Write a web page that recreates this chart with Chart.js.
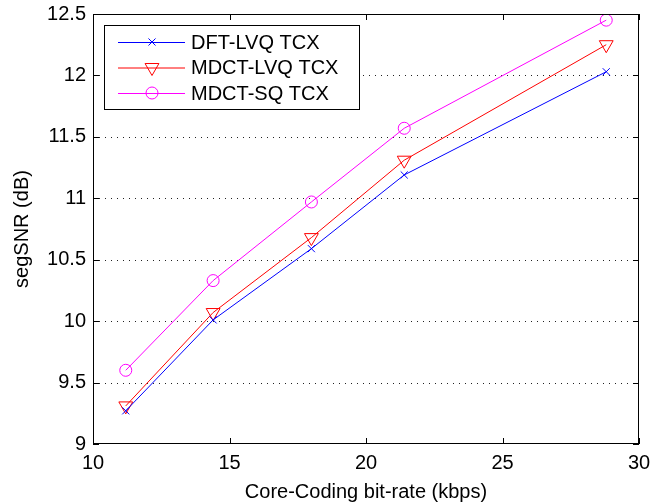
<!DOCTYPE html>
<html>
<head>
<meta charset="utf-8">
<script src="https://cdn.jsdelivr.net/npm/chart.js@4"></script>
<style>
  html, body { margin: 0; padding: 0; background: #fff; }
  #wrap { width: 667px; height: 504px; }
</style>
</head>
<body>
<div id="wrap"><canvas id="chart" width="667" height="504"></canvas></div>
<script>
const bitRates = [11.2, 14.4, 18, 21.4, 28.8];
const dftLvq = [9.27, 10.01, 10.59, 11.19, 12.03];
const mdctLvq = [9.31, 10.07, 10.68, 11.31, 12.25];
const mdctSq = [9.60, 10.33, 10.97, 11.57, 12.45];
const xTicks = [10, 15, 20, 25, 30];
const yTicks = [9, 9.5, 10, 10.5, 11, 11.5, 12, 12.5];

const font = 'Liberation Sans, Arial, Helvetica, sans-serif';

function points(ys) {
    return bitRates.map((x, i) => ({ x: x, y: ys[i] }));
}

const series = [
    { label: 'DFT-LVQ TCX', data: points(dftLvq), color: '#0000ff', style: 'crossRot', radius: 5, rotation: 0 },
    { label: 'MDCT-LVQ TCX', data: points(mdctLvq), color: '#ff0000', style: 'triangle', radius: 8, rotation: 180 },
    { label: 'MDCT-SQ TCX', data: points(mdctSq), color: '#ff00ff', style: 'circle', radius: 6, rotation: 0 },
];

// dotted grid, box, inward ticks and legend, drawn the MATLAB way
const matlabFrame = {
    id: 'matlabFrame',
    beforeDatasetsDraw(chart) {
        const ctx = chart.ctx;
        const a = chart.chartArea;
        const ys = chart.scales.y;
        ctx.save();
        ctx.strokeStyle = '#222';
        ctx.lineWidth = 1;
        ctx.setLineDash([1, 5]);
        ctx.beginPath();
        yTicks.slice(1, -1).forEach(v => {
            const py = Math.round(ys.getPixelForValue(v)) + 0.5;
            ctx.moveTo(a.left, py); ctx.lineTo(a.right, py);
        });
        ctx.stroke();
        ctx.restore();
    },
    afterDraw(chart) {
        const ctx = chart.ctx;
        const a = chart.chartArea;
        const xs = chart.scales.x, ys = chart.scales.y;
        ctx.save();
        ctx.strokeStyle = '#000';
        ctx.lineWidth = 1;
        ctx.setLineDash([]);
        ctx.strokeRect(a.left + 0.5, a.top + 0.5, a.right - a.left - 1, a.bottom - a.top - 1);
        ctx.beginPath();
        xTicks.forEach(v => {
            const px = Math.round(xs.getPixelForValue(v)) + 0.5;
            ctx.moveTo(px, a.bottom); ctx.lineTo(px, a.bottom - 6);
            ctx.moveTo(px, a.top); ctx.lineTo(px, a.top + 6);
        });
        yTicks.forEach(v => {
            const py = Math.round(ys.getPixelForValue(v)) + 0.5;
            ctx.moveTo(a.left, py); ctx.lineTo(a.left + 6, py);
            ctx.moveTo(a.right, py); ctx.lineTo(a.right - 6, py);
        });
        ctx.stroke();

        // legend
        const lx = 104, ly = 25, lw = 255, lh = 84;
        ctx.fillStyle = '#fff';
        ctx.fillRect(lx, ly, lw, lh);
        ctx.strokeRect(lx + 0.5, ly + 0.5, lw, lh);
        ctx.font = '20px ' + font;
        ctx.textBaseline = 'middle';
        chart.data.datasets.forEach((ds, i) => {
            const y = 42 + i * 25.5;
            ctx.strokeStyle = ds.borderColor;
            ctx.beginPath();
            ctx.moveTo(118, y + 0.5); ctx.lineTo(185, y + 0.5);
            ctx.stroke();
            ctx.fillStyle = 'rgba(0,0,0,0)';
            Chart.helpers.drawPoint(ctx, {
                pointStyle: ds.pointStyle,
                radius: ds.pointRadius,
                rotation: ds.pointRotation,
                borderWidth: 1
            }, 152, y);
            ctx.fillStyle = '#000';
            ctx.fillText(ds.label, 191, y + 1);
        });
        ctx.restore();
    }
};

new Chart(document.getElementById('chart'), {
    type: 'line',
    data: {
        datasets: series.map(s => ({
            label: s.label,
            data: s.data,
            borderColor: s.color,
            backgroundColor: 'rgba(0,0,0,0)',
            borderWidth: 1,
            pointStyle: s.style,
            pointRadius: s.radius,
            pointHoverRadius: s.radius,
            pointRotation: s.rotation,
            pointBorderColor: s.color,
            pointBackgroundColor: 'rgba(0,0,0,0)',
            pointBorderWidth: 1,
            tension: 0
        }))
    },
    options: {
        responsive: false,
        animation: false,
        layout: { padding: { top: 14, right: 28, left: 0, bottom: 0 } },
        plugins: { legend: { display: false }, tooltip: { enabled: false } },
        scales: {
            x: {
                type: 'linear',
                min: 10, max: 30,
                afterBuildTicks: s => { s.ticks = xTicks.map(v => ({ value: v })); },
                afterFit: s => { s.height = 60; s.paddingLeft = 0; s.paddingRight = 0; },
                grid: { display: false, drawTicks: false },
                border: { display: false },
                ticks: { color: '#000', font: { family: font, size: 20 }, padding: 7, maxRotation: 0,
                         callback: v => String(v) },
                title: { display: true, text: 'Core-Coding bit-rate (kbps)', color: '#000', font: { family: font, size: 20 }, padding: { top: 1, bottom: 0 } }
            },
            y: {
                min: 9, max: 12.5,
                afterBuildTicks: s => { s.ticks = yTicks.map(v => ({ value: v })); },
                afterFit: s => { s.width = 93; s.paddingTop = 0; s.paddingBottom = 0; },
                grid: { display: false, drawTicks: false },
                border: { display: false },
                ticks: { color: '#000', font: { family: font, size: 20 }, padding: 7,
                         callback: v => String(v) },
                title: { display: true, text: 'segSNR (dB)', color: '#000', font: { family: font, size: 20 }, padding: { top: 10, bottom: 0 } }
            }
        }
    },
    plugins: [matlabFrame]
});
</script>
</body>
</html>
